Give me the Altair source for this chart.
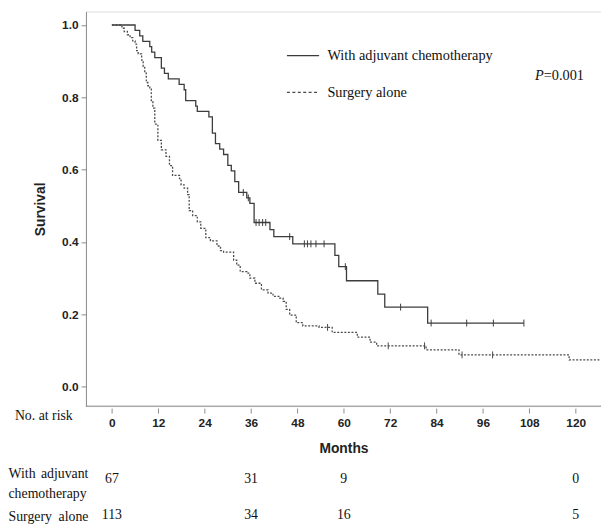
import altair as alt
import pandas as pd

# ---------------- data ----------------
chemo_t = [0, 6.0, 7.2, 8.0, 9.8, 10.3, 11.1, 12.8, 13.6, 14.6,
           17.4, 18.7, 19.1, 21.7, 22.1, 25.1, 26.0, 26.8, 27.9, 28.9,
           30.0, 30.9, 31.8, 32.8, 34.9, 35.7, 36.8, 40.9, 41.9, 46.8,
           57.7, 58.7, 60.7, 68.8, 70.6, 81.7, 106.6]
chemo_s = [1.0, 0.985, 0.970, 0.955, 0.940, 0.925, 0.910, 0.881, 0.866, 0.851,
           0.836, 0.821, 0.791, 0.776, 0.761, 0.746, 0.701, 0.672, 0.657, 0.642,
           0.612, 0.597, 0.567, 0.537, 0.522, 0.507, 0.454, 0.434, 0.415, 0.395,
           0.363, 0.332, 0.293, 0.256, 0.220, 0.176, 0.176]

surg_t = [0, 2.6, 3.2, 4.0, 4.7, 5.4, 6.0, 6.4, 6.8, 7.7,
          8.1, 8.5, 8.9, 9.3, 9.8, 10.2, 10.6, 11.1, 11.9, 12.8,
          14.0, 14.9, 15.7, 17.5, 17.9, 18.7, 19.6, 20.0, 20.9, 22.1,
          23.0, 24.3, 25.5, 27.2, 28.1, 28.9, 31.5, 32.3, 33.2, 34.9,
          35.7, 37.0, 38.7, 40.4, 41.7, 43.4, 44.3, 45.1, 46.0, 47.7,
          49.4, 53.6, 57.0, 63.5, 66.8, 68.5, 81.3, 89.8, 118.3, 128.0]
surg_s = [1.0, 0.991, 0.982, 0.973, 0.965, 0.956, 0.947, 0.929, 0.920, 0.903,
          0.885, 0.867, 0.841, 0.832, 0.823, 0.788, 0.770, 0.726, 0.681, 0.655,
          0.637, 0.611, 0.584, 0.575, 0.558, 0.549, 0.531, 0.487, 0.473, 0.456,
          0.438, 0.412, 0.403, 0.389, 0.376, 0.372, 0.350, 0.336, 0.318, 0.314,
          0.300, 0.286, 0.268, 0.259, 0.250, 0.245, 0.236, 0.214, 0.198, 0.177,
          0.168, 0.164, 0.150, 0.137, 0.123, 0.113, 0.102, 0.088, 0.074, 0.074]

chemo_cens_t = [34.0, 35.3, 37.3, 38.1, 39.0, 39.8, 46.0, 49.8, 50.6, 51.5,
                52.8, 54.9, 60.4, 74.7, 82.6, 91.8, 98.7, 106.6]
chemo_cens_s = [0.537, 0.522, 0.454, 0.454, 0.454, 0.454, 0.415, 0.395, 0.395, 0.395,
                0.395, 0.395, 0.332, 0.220, 0.176, 0.176, 0.176, 0.176]
surg_cens_t = [55.8, 71.5, 80.9, 90.6, 98.5]
surg_cens_s = [0.164, 0.113, 0.113, 0.088, 0.088]

month_ticks = [0, 12, 24, 36, 48, 60, 72, 84, 96, 108, 120]
surv_ticks = [0.0, 0.2, 0.4, 0.6, 0.8, 1.0]

risk_t = [0, 36, 60, 120]
risk_chemo = ["67", "31", "9", "0"]
risk_surg = ["113", "34", "16", "5"]

# ---------------- styling ----------------
SANS = "Liberation Sans"
SERIF = "Liberation Serif"
AXIS_GRAY = "#8a8a8a"
LABEL = "#222222"
CURVE = "#3c3c3c"
W, H = 522, 400

xscale = alt.Scale(domain=[-6.71, 126.55], nice=False, zero=False)
yscale = alt.Scale(domain=[-0.0537, 1.0374], nice=False, zero=False)

chemo_df = pd.DataFrame({"t": chemo_t, "s": chemo_s})
surg_df = pd.DataFrame({"t": surg_t, "s": surg_s})
chemo_c = pd.DataFrame({"t": chemo_cens_t, "s": chemo_cens_s})
surg_c = pd.DataFrame({"t": surg_cens_t, "s": surg_cens_s})

x_axis = alt.Axis(values=month_ticks, domain=False, offset=2, tickSize=5,
                  tickColor=AXIS_GRAY, grid=False, labelFont=SANS,
                  labelFontWeight="bold", labelFontSize=12, labelColor=LABEL,
                  labelPadding=5, title="Months", titleFont=SANS,
                  titleFontSize=14, titleFontWeight="bold", titleColor=LABEL,
                  titlePadding=13)
y_axis = alt.Axis(values=surv_ticks, format=".1f", domainColor=AXIS_GRAY,
                  tickColor=AXIS_GRAY, tickSize=5, grid=False, labelFont=SANS,
                  labelFontWeight="bold", labelFontSize=12, labelColor=LABEL,
                  labelPadding=3, title="Survival", titleFont=SANS,
                  titleFontSize=14, titleFontWeight="bold", titleColor=LABEL,
                  titlePadding=14)

X = alt.X("t:Q", scale=xscale, axis=x_axis)
Y = alt.Y("s:Q", scale=yscale, axis=y_axis)

chemo_line = alt.Chart(chemo_df).mark_line(
    interpolate="step-after", strokeWidth=1.3, color=CURVE
).encode(x=X, y=Y)
surg_line = alt.Chart(surg_df).mark_line(
    interpolate="step-after", strokeWidth=1.3, color="#4a4a4a", strokeDash=[2, 1.6]
).encode(x=X, y=Y)
cens_shape = "M0,-1L0,1"
chemo_cens = alt.Chart(chemo_c).mark_point(
    shape=cens_shape, size=49, strokeWidth=1, filled=False, color=CURVE, opacity=1
).encode(x=X, y=Y)
surg_cens = alt.Chart(surg_c).mark_point(
    shape=cens_shape, size=49, strokeWidth=1, filled=False, color="#4a4a4a", opacity=1
).encode(x=X, y=Y)

# bottom spine (ticks sit slightly below it in the reference)
spine = alt.Chart(pd.DataFrame({"a": [0]})).mark_rule(color=AXIS_GRAY, strokeWidth=1).encode(
    x=alt.value(0), x2=alt.value(W), y=alt.value(H)
)

# legend
leg = pd.DataFrame({"a": [0]})
leg_solid = alt.Chart(leg).mark_rule(color=CURVE, strokeWidth=1.3).encode(
    x=alt.value(203.7), x2=alt.value(236.3), y=alt.value(44.7))
leg_dash = alt.Chart(leg).mark_rule(color="#4a4a4a", strokeWidth=1.2, strokeDash=[3, 2.5]).encode(
    x=alt.value(203.7), x2=alt.value(236.3), y=alt.value(82))


def txt(text, x, y, align="left", size=14, font=SERIF, style="normal", weight="normal"):
    return alt.Chart(leg).mark_text(
        text=text, align=align, baseline="middle", font=font, fontSize=size,
        fontStyle=style, fontWeight=weight, color="#111111"
    ).encode(x=alt.value(x), y=alt.value(y))


leg_t1 = txt("With adjuvant chemotherapy", 244.7, 45.3, size=14.5)
leg_t2 = txt("Surgery alone", 244.7, 82.5, size=14.5)
p_t1 = txt("P", 455, 65.3, style="italic", size=14.5)
p_t2 = txt("=0.001", 464, 65.3, size=14.5)

# risk table
no_risk = txt("No. at risk", -72, 410.5)
row1a = txt("With", -78.5, 468.7)
row1b = txt("adjuvant", 2.5, 468.7, align="right")
row1c = txt("chemotherapy", -78.5, 488.7)
row2a = txt("Surgery", -78.5, 512)
row2b = txt("alone", 2.5, 512, align="right")

risk1 = alt.Chart(pd.DataFrame({"t": risk_t, "n": risk_chemo})).mark_text(
    baseline="middle", font=SERIF, fontSize=14, color="#111111"
).encode(x=X, y=alt.value(474.3), text="n:N")
risk2 = alt.Chart(pd.DataFrame({"t": risk_t, "n": risk_surg})).mark_text(
    baseline="middle", font=SERIF, fontSize=14, color="#111111"
).encode(x=X, y=alt.value(510.3), text="n:N")

chart = alt.layer(
    chemo_line, surg_line, chemo_cens, surg_cens, spine,
    leg_solid, leg_dash, leg_t1, leg_t2, p_t1, p_t2,
    no_risk, row1a, row1b, row1c, row2a, row2b, risk1, risk2,
).properties(
    width=W, height=H,
    padding={"left": 79, "top": 0, "right": 0, "bottom": 121},
    autosize="none",
).configure_view(stroke=None).configure(background="white")

chart.save("out.html", embed_options={"renderer": "svg", "actions": False})
